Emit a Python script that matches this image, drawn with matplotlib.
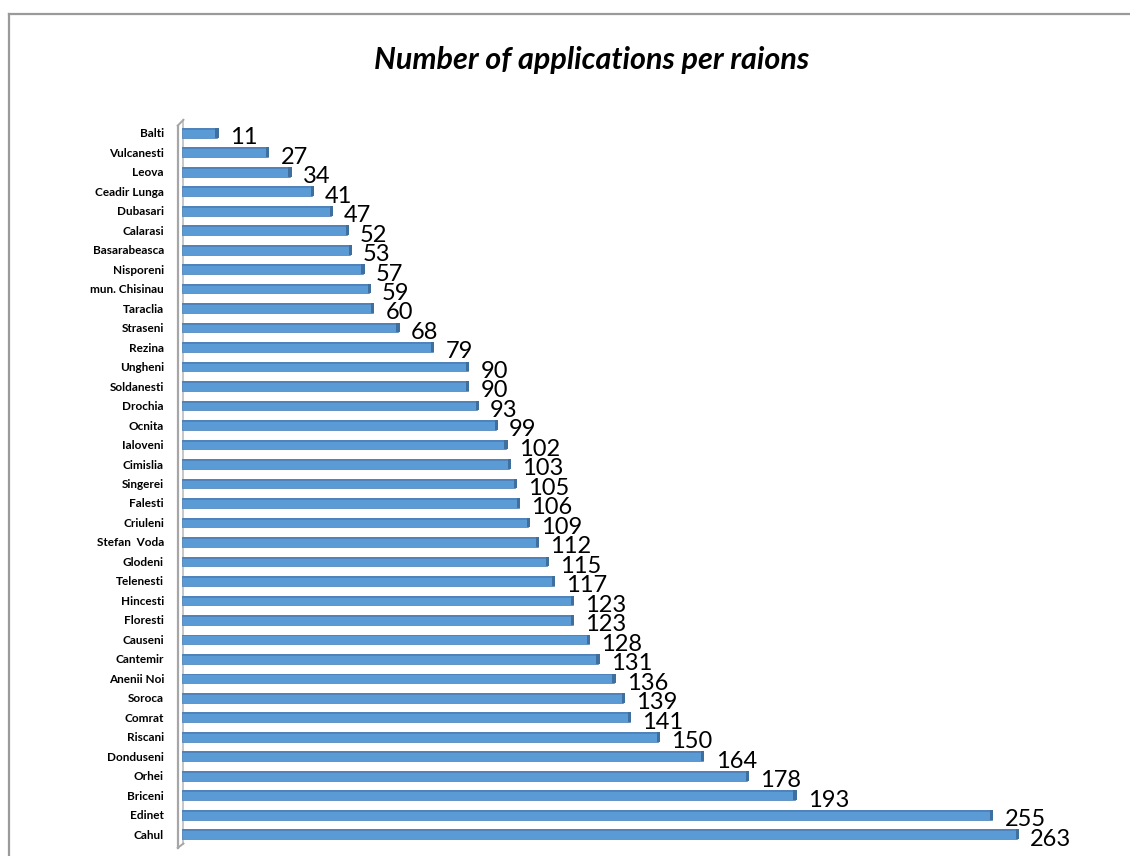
import matplotlib
matplotlib.use("Agg")
import matplotlib.pyplot as plt
from matplotlib.lines import Line2D
import numpy as np

categories = ["Balti", "Vulcanesti", "Leova", "Ceadir Lunga", "Dubasari", "Calarasi",
              "Basarabeasca", "Nisporeni", "mun. Chisinau", "Taraclia", "Straseni",
              "Rezina", "Ungheni", "Soldanesti", "Drochia", "Ocnita", "Ialoveni",
              "Cimislia", "Singerei", "Falesti", "Criuleni", "Stefan  Voda", "Glodeni",
              "Telenesti", "Hincesti", "Floresti", "Causeni", "Cantemir", "Anenii Noi",
              "Soroca", "Comrat", "Riscani", "Donduseni", "Orhei", "Briceni", "Edinet",
              "Cahul"]
values = [11, 27, 34, 41, 47, 52, 53, 57, 59, 60, 68, 79, 90, 90, 93, 99, 102, 103,
          105, 106, 109, 112, 115, 117, 123, 123, 128, 131, 136, 139, 141, 150, 164,
          178, 193, 255, 263]
title = "Number of applications per raions"

W, H = 1130, 856
fig = plt.figure(figsize=(W / 100, H / 100), dpi=100)
fig.patch.set_facecolor("white")

# outer border (top and left visible)
fig.add_artist(Line2D([9 / W, 9 / W], [0, 1 - 14 / H], color="#9a9a9a", lw=1.6))
fig.add_artist(Line2D([9 / W, 1], [1 - 14 / H, 1 - 14 / H], color="#9a9a9a", lw=1.6))

ax_left, ax_right = 182 / W, 1.0
ax_top, ax_bot = 1 - 122 / H, 1 - 845 / H
ax = fig.add_axes([ax_left, ax_bot, ax_right - ax_left, ax_top - ax_bot])

y = np.arange(len(categories))
ax.barh(y, values, height=0.5, color="#5b9bd5", edgecolor="#4a7fb5", linewidth=0.5, zorder=3)
# darker top face for a slight 3D feel
ax.barh(y - 0.2, values, height=0.1, color="#4f83ba", linewidth=0, zorder=4)
# end cap
ax.barh(y, [1.0] * len(values), left=np.array(values) - 0.5, height=0.5,
        color="#3f6f9f", linewidth=0, zorder=4)

for yi, v in zip(y, values):
    ax.text(v + 4.0, yi + 0.25, str(v), fontsize=17, family="Lato",
            ha="left", va="center", color="black", zorder=5)

ax.set_xlim(0, 298.5)
ax.set_ylim(len(categories) - 0.45, -0.55)
ax.set_yticks(y)
ax.set_yticklabels(categories, fontsize=8.5, fontweight="bold", family="Lato")
ax.tick_params(axis="y", length=0, pad=13)
ax.set_xticks([])
for s in ax.spines.values():
    s.set_visible(False)

# 3D wall on the left
tr = ax.transAxes
x1, x2 = -0.0045, 0.0015
ax.plot([x1, x1], [-0.004, 0.995], transform=tr, color="#a6a6a6", lw=1.6, clip_on=False)
ax.plot([x2, x2], [0.002, 1.003], transform=tr, color="#bdbdbd", lw=1.2, clip_on=False)
ax.plot([x1, x2], [0.995, 1.003], transform=tr, color="#a6a6a6", lw=1.4, clip_on=False)
ax.plot([x1, x2], [-0.004, 0.002], transform=tr, color="#a6a6a6", lw=1.4, clip_on=False)

fig.text(592 / W, 1 - 60 / H, title, fontsize=22, fontweight="bold", fontstyle="italic",
         family="Lato", ha="center", va="center")

fig.savefig("out.png", dpi=100)
